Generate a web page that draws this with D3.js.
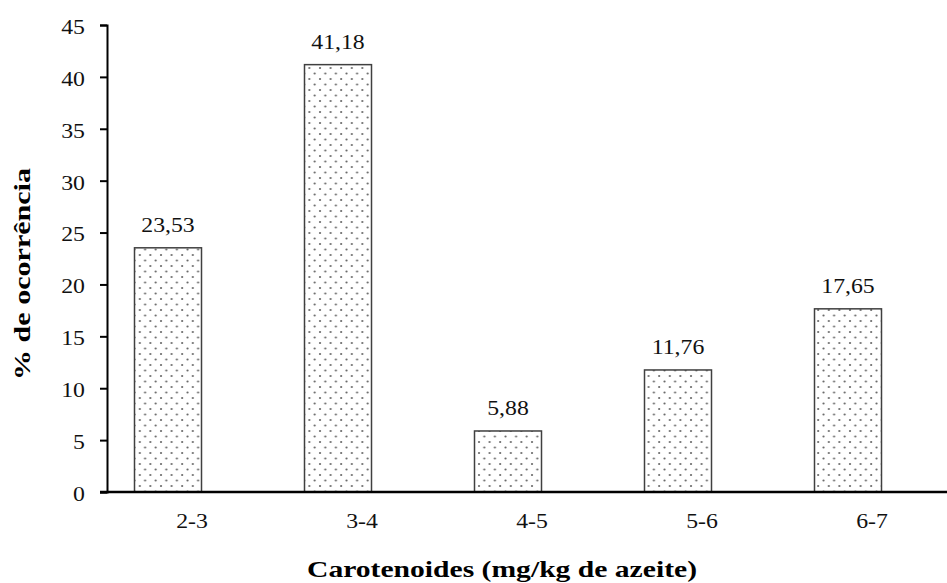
<!DOCTYPE html>
<html>
<head>
<meta charset="utf-8">
<script src="https://cdn.jsdelivr.net/npm/d3@7"></script>
<style>
  body { margin: 0; background: #fff; }
</style>
</head>
<body>
<svg id="chart" width="947" height="583"></svg>
<script>
// dados
const categorias = ["2-3", "3-4", "4-5", "5-6", "6-7"];
const ocorrencia = [23.53, 41.18, 5.88, 11.76, 17.65];
const rotulos = ["23,53", "41,18", "5,88", "11,76", "17,65"];
const yTicks = [0, 5, 10, 15, 20, 25, 30, 35, 40, 45];

const fonte = "Liberation Serif";
const esticar = 1.08; // o texto do original é um pouco mais largo

const svg = d3.select("#chart");

const x = d3.scaleBand().domain(categorias).range([107, 957]);
const y = d3.scaleLinear().domain([0, 45]).range([492, 25]);

// padrão pontilhado das barras
const pat = svg.append("defs").append("pattern")
  .attr("id", "dots")
  .attr("patternUnits", "userSpaceOnUse")
  .attr("width", 10.6)
  .attr("height", 11);
pat.append("rect").attr("width", 10.6).attr("height", 11).attr("fill", "#fff");
pat.append("circle").attr("cx", 2).attr("cy", 2).attr("r", 1.1).attr("fill", "#666");
pat.append("circle").attr("cx", 7.3).attr("cy", 7.5).attr("r", 1.1).attr("fill", "#666");

const barW = 67;
const desloc = -24; // barras deslocadas à esquerda do rótulo
const centro = c => x(c) + x.bandwidth() / 2;

// barras
svg.selectAll(".bar")
  .data(ocorrencia)
  .enter()
  .append("rect")
  .attr("class", "bar")
  .attr("x", (d, i) => centro(categorias[i]) + desloc - barW / 2)
  .attr("y", d => y(d))
  .attr("width", barW)
  .attr("height", d => y(0) - y(d))
  .attr("fill", "url(#dots)")
  .attr("stroke", "#404040")
  .attr("stroke-width", 1.5);

// rótulos das barras
svg.selectAll(".lbl")
  .data(ocorrencia)
  .enter()
  .append("text")
  .attr("class", "lbl")
  .attr("transform", (d, i) => `translate(${centro(categorias[i]) + desloc},${y(d) - 16}) scale(${esticar},1)`)
  .attr("text-anchor", "middle")
  .attr("fill", "#111")
  .style("font-family", fonte)
  .style("font-size", "22px")
  .text((d, i) => rotulos[i]);

// eixo y
const yAxis = svg.append("g")
  .attr("transform", "translate(107,0)")
  .call(d3.axisLeft(y).tickValues(yTicks).tickSize(7).tickPadding(13.4));
yAxis.select(".domain").attr("stroke", "#000").attr("stroke-width", 2);
yAxis.selectAll(".tick line").attr("stroke", "#000").attr("stroke-width", 2);
yAxis.selectAll(".tick text")
  .attr("transform", `scale(${esticar},1)`)
  .attr("dy", "0.38em")
  .attr("fill", "#111")
  .style("font-family", fonte)
  .style("font-size", "22px");

// eixo x
svg.append("line")
  .attr("x1", 100).attr("x2", 947)
  .attr("y1", y(0)).attr("y2", y(0))
  .attr("stroke", "#000").attr("stroke-width", 2.5);

svg.selectAll(".xlbl")
  .data(categorias)
  .enter()
  .append("text")
  .attr("class", "xlbl")
  .attr("transform", d => `translate(${centro(d)},528) scale(${esticar},1)`)
  .attr("text-anchor", "middle")
  .attr("fill", "#111")
  .style("font-family", fonte)
  .style("font-size", "22px")
  .text(d => d);

// títulos
svg.append("text")
  .attr("x", 307)
  .attr("y", 577)
  .attr("textLength", 390)
  .attr("lengthAdjust", "spacingAndGlyphs")
  .style("font-family", fonte)
  .style("font-size", "24px")
  .style("font-weight", "bold")
  .text("Carotenoides (mg/kg de azeite)");

svg.append("text")
  .attr("transform", "translate(30,380) rotate(-90)")
  .attr("textLength", 212)
  .attr("lengthAdjust", "spacingAndGlyphs")
  .style("font-family", fonte)
  .style("font-size", "24px")
  .style("font-weight", "bold")
  .text("% de ocorrência");
</script>
</body>
</html>
